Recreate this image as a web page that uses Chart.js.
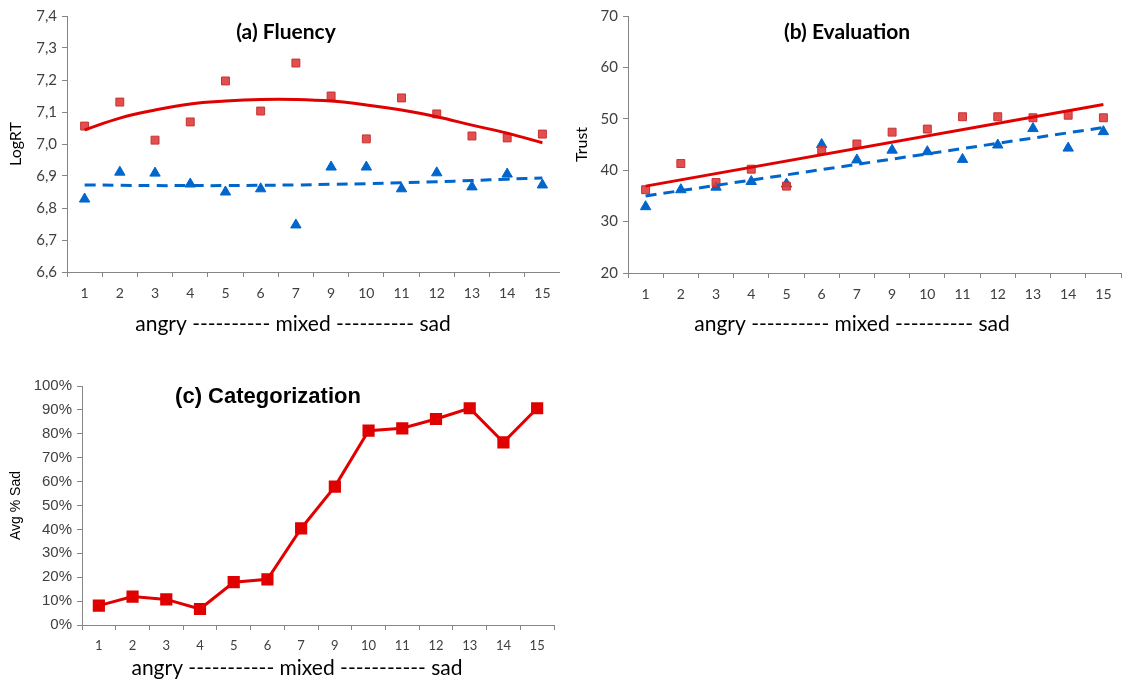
<!DOCTYPE html>
<html>
<head>
<meta charset="utf-8">
<script src="https://cdn.jsdelivr.net/npm/chart.js@4.4.1/dist/chart.umd.min.js"></script>
<style>
  html, body { margin: 0; padding: 0; background: #fff; }
  .panel { position: absolute; }
  #boxA { left: 0; top: 0; width: 560px; height: 345px; }
  #boxB { left: 560px; top: 0; width: 564px; height: 345px; }
  #boxC { left: 0; top: 370px; width: 560px; height: 320px; }
</style>
</head>
<body>
<div class="panel" id="boxA"><canvas id="fluencyChart"></canvas></div>
<div class="panel" id="boxB"><canvas id="evalChart"></canvas></div>
<div class="panel" id="boxC"><canvas id="catChart"></canvas></div>
<script>
// morph steps (no 8 in the original)
const steps = ['1', '2', '3', '4', '5', '6', '7', '9', '10', '11', '12', '13', '14', '15'];

// (a) Fluency - LogRT
const fluencyRed = [7.056, 7.131, 7.012, 7.069, 7.197, 7.103, 7.253, 7.150, 7.016, 7.144, 7.094, 7.025, 7.019, 7.031];
const fluencyBlue = [6.828, 6.912, 6.909, 6.875, 6.850, 6.860, 6.747, 6.928, 6.928, 6.860, 6.910, 6.866, 6.906, 6.872];
const fluencyRedTrend = [7.044, 7.081, 7.106, 7.125, 7.134, 7.139, 7.139, 7.134, 7.122, 7.106, 7.085, 7.059, 7.034, 7.004];
const fluencyBlueTrend = [6.872, 6.871, 6.870, 6.870, 6.870, 6.871, 6.872, 6.874, 6.876, 6.879, 6.882, 6.886, 6.890, 6.894];

// (b) Evaluation - Trust
const trustRed = [36.2, 41.3, 37.6, 40.2, 36.9, 43.9, 45.1, 47.4, 48.0, 50.4, 50.4, 50.2, 50.7, 50.2];
const trustBlue = [32.9, 36.2, 36.7, 37.8, 37.3, 45.0, 42.0, 43.9, 43.6, 42.1, 44.9, 48.1, 44.3, 47.5];
// linear trends: only the end points are read, the line joins them
const trustRedTrend = [36.9, null, null, null, null, null, null, null, null, null, null, null, null, 52.8];
const trustBlueTrend = [35.0, null, null, null, null, null, null, null, null, null, null, null, null, 48.3];

// (c) Categorization - Avg % Sad
const pctSad = [8.1, 11.9, 10.7, 6.7, 17.9, 19.1, 40.4, 57.9, 81.3, 82.3, 86.2, 90.7, 76.4, 90.7];

const xTitle = 'angry ---------- mixed ---------- sad';
const xTitleC = 'angry ----------- mixed ----------- sad';

const axisGray = '#868686';
const textGray = '#404040';
const red = '#E00000';
const squareRed = 'rgba(222, 60, 60, 0.9)';
const blue = '#0066CC';
const arial = "'Liberation Sans', Arial, sans-serif";

Chart.defaults.animation = false;
Chart.defaults.font.family = "Lato, 'Open Sans', sans-serif";
Chart.defaults.color = textGray;

// free-standing text boxes (panel title and the x caption)
const captions = {
    id: 'captions',
    afterDraw(chart, args, opts) {
        const ctx = chart.ctx;
        ctx.save();
        ctx.textAlign = 'center';
        ctx.textBaseline = 'middle';
        opts.items.forEach(item => {
            ctx.font = item.font;
            ctx.fillStyle = item.color || '#000';
            ctx.fillText(item.text, item.x, item.y);
        });
        ctx.restore();
    }
};

function xScale(height, fontSize) {
    return {
        type: 'category',
        offset: true,
        grid: { offset: true, drawOnChartArea: false, color: axisGray, tickLength: 5 },
        border: { color: axisGray },
        ticks: { font: { size: fontSize }, color: textGray, padding: 8, maxRotation: 0, autoSkip: false },
        afterFit: function(scale) { scale.height = height; }
    };
}

function yScale(min, max, step, fmt, title, width, tickFont, titleFont, titlePad) {
    return {
        min: min,
        max: max,
        ticks: { stepSize: step, callback: fmt, font: tickFont, color: textGray, padding: 5 },
        grid: { drawOnChartArea: false, color: axisGray, tickLength: 5 },
        border: { color: axisGray },
        title: { display: true, text: title, font: titleFont, color: '#000', padding: { top: titlePad, bottom: 0 } },
        afterFit: function(scale) { scale.width = width; }
    };
}

function trendSet(data, color, dashed, tension) {
    return {
        data: data,
        borderColor: color,
        borderWidth: 3,
        borderDash: dashed ? [11, 7] : [],
        pointRadius: 0,
        tension: tension,
        spanGaps: true,
        fill: false
    };
}

function markerSet(data, style) {
    const isRect = style === 'rect';
    return {
        data: data,
        showLine: false,
        pointStyle: style,
        pointRadius: isRect ? 5.6 : 6,
        pointBackgroundColor: isRect ? squareRed : blue,
        pointBorderColor: isRect ? '#C83232' : blue,
        pointBorderWidth: 1
    };
}

new Chart(document.getElementById('fluencyChart'), {
    type: 'line',
    plugins: [captions],
    data: {
        labels: steps,
        datasets: [
            trendSet(fluencyRedTrend, red, false, 0.4),
            trendSet(fluencyBlueTrend, blue, true, 0.4),
            markerSet(fluencyRed, 'rect'),
            markerSet(fluencyBlue, 'triangle')
        ]
    },
    options: {
        responsive: true,
        maintainAspectRatio: false,
        layout: { autoPadding: false, padding: { top: 16, right: 0, left: 0, bottom: 0 } },
        plugins: {
            legend: { display: false },
            tooltip: { enabled: false },
            captions: { items: [
                { text: '(a) Fluency', x: 286, y: 32, font: 'bold 21px Lato, sans-serif' },
                { text: xTitle, x: 293, y: 324, font: '21px Lato, sans-serif' }
            ] }
        },
        scales: {
            x: xScale(73, 14),
            y: yScale(6.6, 7.4, 0.1, v => v.toFixed(1).replace('.', ','), 'LogRT', 67, { size: 15 }, { size: 16 }, 6)
        }
    }
});

new Chart(document.getElementById('evalChart'), {
    type: 'line',
    plugins: [captions],
    data: {
        labels: steps,
        datasets: [
            trendSet(trustRedTrend, red, false, 0),
            trendSet(trustBlueTrend, blue, true, 0),
            markerSet(trustRed, 'rect'),
            markerSet(trustBlue, 'triangle')
        ]
    },
    options: {
        responsive: true,
        maintainAspectRatio: false,
        layout: { autoPadding: false, padding: { top: 16, right: 3, left: 0, bottom: 0 } },
        plugins: {
            legend: { display: false },
            tooltip: { enabled: false },
            captions: { items: [
                { text: '(b) Evaluation', x: 287, y: 32, font: 'bold 21px Lato, sans-serif' },
                { text: xTitle, x: 292, y: 324, font: '21px Lato, sans-serif' }
            ] }
        },
        scales: {
            x: xScale(72, 14),
            y: yScale(20, 70, 10, v => v, 'Trust', 68, { size: 15 }, { size: 16 }, 12)
        }
    }
});

new Chart(document.getElementById('catChart'), {
    type: 'line',
    plugins: [captions],
    data: {
        labels: steps,
        datasets: [{
            data: pctSad,
            borderColor: red,
            borderWidth: 3,
            pointStyle: 'rect',
            pointRadius: 6.5,
            pointBackgroundColor: red,
            pointBorderColor: red,
            tension: 0
        }]
    },
    options: {
        responsive: true,
        maintainAspectRatio: false,
        layout: { autoPadding: false, padding: { top: 16, right: 6, left: 0, bottom: 0 } },
        plugins: {
            legend: { display: false },
            tooltip: { enabled: false },
            captions: { items: [
                { text: '(c) Categorization', x: 268, y: 27, font: 'bold 22px ' + arial },
                { text: xTitleC, x: 297, y: 298, font: '21px Lato, sans-serif' }
            ] }
        },
        scales: {
            x: xScale(65, 13),
            y: yScale(0, 100, 10, v => v + '%', 'Avg % Sad', 82,
                { size: 15, family: arial }, { size: 14, family: arial }, 8)
        }
    }
});
</script>
</body>
</html>
